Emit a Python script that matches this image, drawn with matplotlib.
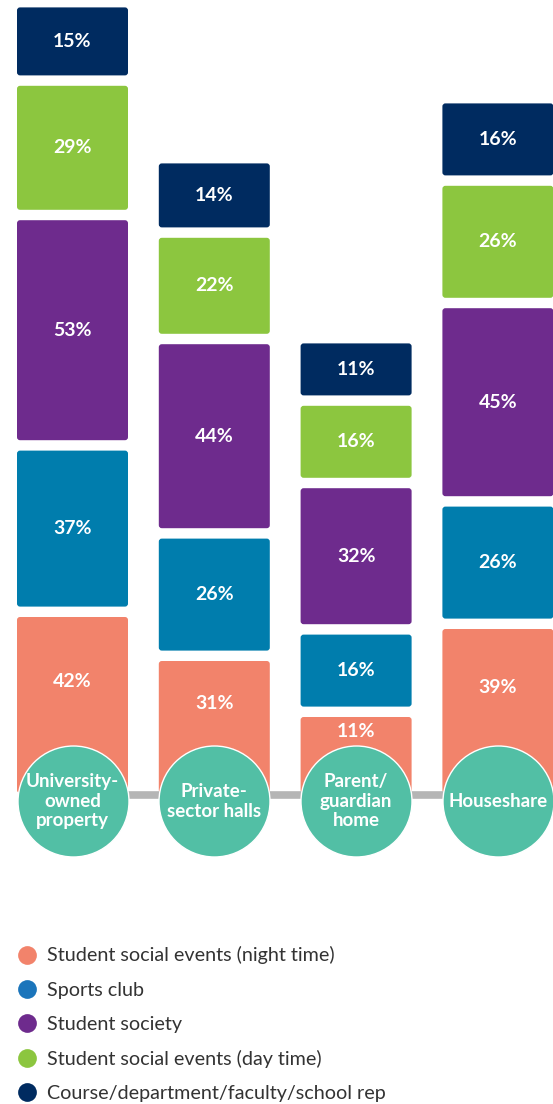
import matplotlib
matplotlib.use("Agg")
import matplotlib.pyplot as plt
from matplotlib.patches import FancyBboxPatch
from matplotlib.lines import Line2D
import numpy as np

plt.rcParams['font.family'] = ['Lato', 'DejaVu Sans']

# ---- data ----
categories = ["University-\nowned\nproperty", "Private-\nsector halls", "Parent/\nguardian\nhome", "Houseshare"]
series = ["Student social events (night time)", "Sports club", "Student society",
          "Student social events (day time)", "Course/department/faculty/school rep"]
night_events = [42, 31, 11, 39]
sports_club = [37, 26, 16, 26]
student_society = [53, 44, 32, 45]
day_events = [29, 22, 16, 26]
course_rep = [15, 14, 11, 16]

bar_colors = ["#F2836B", "#007DAD", "#6E2B8D", "#8CC63F", "#002B60"]
legend_colors = ["#F2836B", "#1B75BB", "#6E2B8D", "#8CC63F", "#002B60"]
circle_color = "#52BFA5"
line_color = "#B5B5B5"

W, H = 553, 1104
fig = plt.figure(figsize=(W / 100, H / 100), dpi=100)
ax = fig.add_axes([0, 0, 1, 1])

# scales: x -> category index, y -> percentage units (4 px per %)
px_x = 141.8          # px per category
px_y = 4.0            # px per %
base_px = 793         # baseline from top
x0_px = 72.5
ax.set_xlim(-x0_px / px_x, (W - x0_px) / px_x)
ax.set_ylim(-(H - base_px) / px_y, base_px / px_y)
ax.axis("off")

pad = 2.0             # extra height per block (in % units)
gap = 2.6             # gap between blocks
circle_r = 55 / px_y  # circle radius in y units
circle_cy = -2.0
circle_top = circle_cy + circle_r
min_first = 19.0

x = np.arange(len(categories))
width = 111 / px_x
all_vals = [night_events, sports_club, student_society, day_events, course_rep]

bottoms = np.zeros(len(categories))
for si, vals in enumerate(all_vals):
    vals = np.array(vals, dtype=float)
    heights = vals + pad
    if si == 0:
        heights = np.maximum(heights, min_first)
    bars = ax.bar(x, heights, width=width, bottom=bottoms, color=bar_colors[si], zorder=2)
    for bi, rect in enumerate(bars):
        rx, ry = rect.get_x(), rect.get_y()
        rw, rh = rect.get_width(), rect.get_height()
        rect.set_visible(False)
        r = 3 / px_x
        fb = FancyBboxPatch((rx, ry), rw, rh,
                            boxstyle=f"round,pad=0,rounding_size={r}",
                            mutation_aspect=px_x / px_y,
                            facecolor=bar_colors[si], edgecolor="none", zorder=2)
        ax.add_patch(fb)
        top = ry + rh
        if si == 0:
            ty = (top + circle_top) / 2
        else:
            ty = ry + rh / 2
        ax.text(rx + rw / 2, ty, f"{int(vals[bi])}%", ha="center", va="center",
                color="white", fontsize=14, fontweight="bold", zorder=5)
    bottoms = bottoms + heights + gap

# connecting line and circles
ax.plot([x[0], x[-1]], [-0.5, -0.5], color=line_color, lw=5.5, zorder=3, solid_capstyle="butt")
diam_pt = 111 * 72 / 100
ax.scatter(x, [circle_cy] * len(x), s=diam_pt ** 2, color=circle_color,
           edgecolors="white", linewidths=1.0, zorder=4)
for xi, lab in zip(x, categories):
    ax.text(xi, circle_cy - 0.1, lab, ha="center", va="center", color="white",
            fontsize=13.5, fontweight="bold", linespacing=1.18, zorder=6)

# legend
handles = [Line2D([0], [0], marker="o", linestyle="none", markersize=13.5,
                  markerfacecolor=c, markeredgecolor="none") for c in legend_colors]
fig.legend(handles, series, loc="upper left", bbox_to_anchor=(0.033, 0.1428),
           frameon=False, fontsize=14.2, handlelength=0.85, handletextpad=0.62,
           labelspacing=0.87, borderpad=0, borderaxespad=0, labelcolor="#333333")

fig.savefig("out.png", dpi=100)
